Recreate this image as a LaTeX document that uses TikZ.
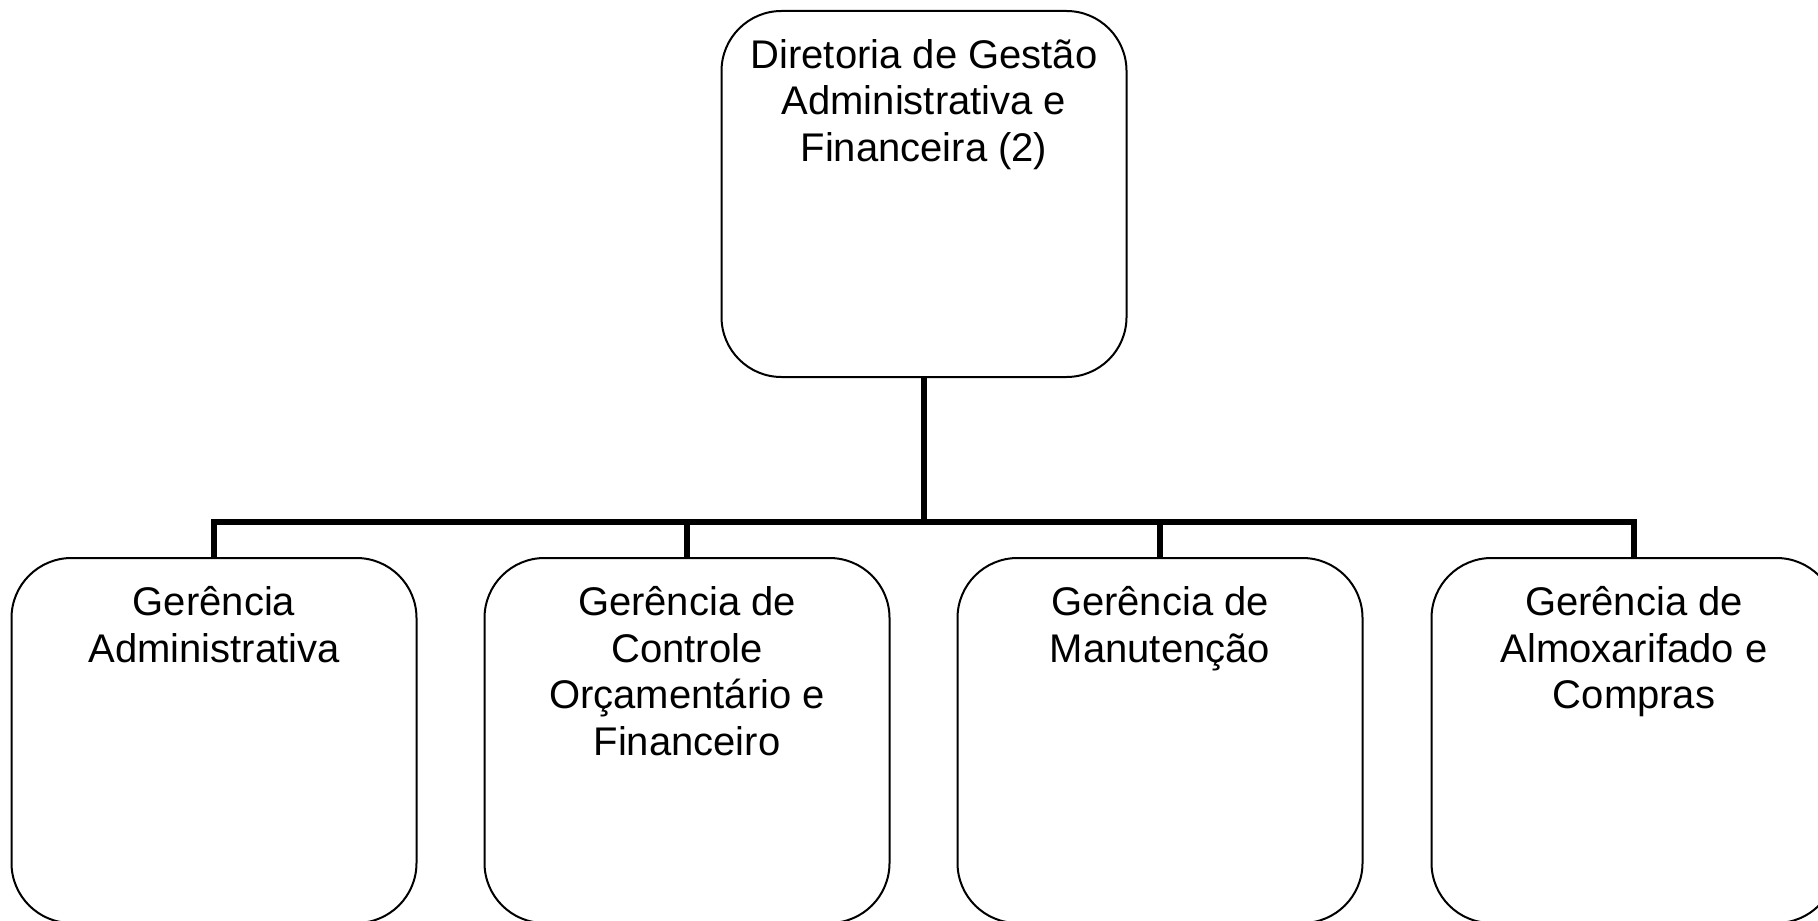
\documentclass[tikz,border=0pt]{standalone}
\usepackage{fontspec}
\setmainfont{Liberation Sans}
\usetikzlibrary{positioning}

\begin{document}
\begin{tikzpicture}[x=0.5pt, y=-0.5pt,
    unitbox/.style={draw, line width=1pt, rounded corners=30pt, minimum width=202.5pt, minimum height=182.5pt, inner sep=0pt},
    unittext/.style={align=center, inner sep=0pt, font=\fontsize{20}{23.25}\selectfont},
    link/.style={line width=3pt}]
    % Fix the picture size
    \useasboundingbox (0,0) rectangle (1818,920);

    % Draw the top box
    \node[unitbox, minimum height=183pt] (dir) at (924,194) {};
    \node[unittext, below=14.5pt of dir.north] (dirtxt) {Diretoria de Gestão\\Administrativa e\\Financeira (2)};

    % Draw the four lower boxes
    \node[unitbox] (ger1) at (214,740.5) {};
    \node[unitbox] (ger2) at (687,740.5) {};
    \node[unitbox] (ger3) at (1160,740.5) {};
    \node[unitbox] (ger4) at (1634,740.5) {};

    % Label the lower boxes
    \node[unittext, below=14.5pt of ger1.north] (ger1txt) {Gerência\\Administrativa};
    \node[unittext, below=14.5pt of ger2.north] (ger2txt) {Gerência de\\Controle\\Orçamentário e\\Financeiro};
    \node[unittext, below=14.5pt of ger3.north] (ger3txt) {Gerência de\\Manutenção};
    \node[unittext, below=14.5pt of ger4.north] (ger4txt) {Gerência de\\Almoxarifado e\\Compras};

    % Draw the connectors
    \coordinate (bus) at (924,522);
    \draw[link] (dir.south) -- (bus);
    \foreach \g in {ger1,ger2,ger3,ger4} {
        \draw[link] (bus) -| (\g.north);
    }
\end{tikzpicture}
\end{document}
